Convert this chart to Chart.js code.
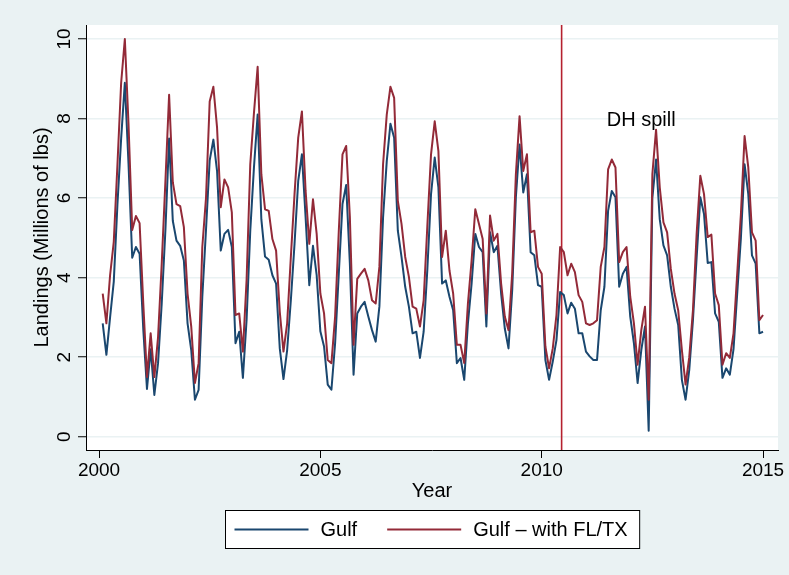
<!DOCTYPE html>
<html>
<head>
<meta charset="utf-8">
<script src="https://cdn.jsdelivr.net/npm/chart.js@4.4.1/dist/chart.umd.min.js"></script>
<style>
html,body{margin:0;padding:0;background:#eaf2f3;}
#wrap{width:789px;height:575px;}
</style>
</head>
<body>
<div id="wrap"><canvas id="c" width="789" height="575"></canvas></div>
<script>
// ---- data ----
const startYear = 2000;               // monthly series, Feb 2000 .. Jan 2015 positions
const monthCount = 180;
const months = Array.from({length: monthCount}, (_, i) => startYear + (i + 1) / 12);

const gulf = [
  2.85,2.06,3.0,3.9,5.85,7.5,8.9,6.85,4.5,4.77,4.6,2.7,
  1.2,2.2,1.05,1.85,3.35,5.2,7.5,5.43,4.93,4.8,4.43,2.85,
  2.18,0.93,1.18,3.52,5.2,6.95,7.47,6.68,4.68,5.1,5.2,4.77,
  2.35,2.64,1.48,2.93,5.18,6.77,8.1,5.47,4.53,4.45,4.06,3.85,
  2.22,1.45,2.18,3.43,4.85,6.43,7.1,5.52,3.81,4.8,4.06,2.65,
  2.27,1.31,1.18,2.35,4.1,5.85,6.33,4.35,1.56,3.1,3.27,3.39,
  3.02,2.68,2.39,3.27,5.52,6.93,7.87,7.52,5.18,4.52,3.77,3.27,
  2.6,2.64,1.98,2.64,4.2,6.1,7.02,6.27,3.85,3.93,3.52,3.18,
  1.85,1.98,1.43,2.85,3.85,5.1,4.77,4.64,2.77,5.14,4.64,4.8,
  3.6,2.72,2.22,3.68,6.02,7.35,6.14,6.6,4.64,4.56,3.81,3.77,
  1.93,1.43,1.89,2.43,3.64,3.56,3.1,3.37,3.22,2.6,2.6,2.14,
  2.02,1.93,1.93,3.18,3.77,5.68,6.18,6.02,3.77,4.1,4.27,3.02,
  2.35,1.35,2.18,2.77,0.15,6.0,6.97,5.47,4.81,4.56,3.77,3.22,
  2.81,1.43,0.93,1.68,2.93,4.5,6.02,5.6,4.37,4.39,3.1,2.89,
  1.48,1.72,1.56,2.2,3.6,5.0,6.85,6.1,4.56,4.35,2.6,2.64
];

const gulfFLTX = [
  3.6,2.85,4.06,4.9,6.85,8.9,10.0,7.85,5.2,5.55,5.37,3.35,
  1.5,2.6,1.5,2.5,4.35,6.43,8.6,6.4,5.85,5.8,5.27,3.6,
  2.77,1.35,1.85,4.77,6.0,8.43,8.8,7.77,5.77,6.47,6.27,5.64,
  3.06,3.1,2.14,3.93,6.85,8.14,9.3,6.6,5.72,5.68,4.97,4.68,
  3.14,2.14,2.85,4.52,6.1,7.52,8.18,6.18,4.85,5.97,5.1,3.6,
  3.1,1.93,1.85,3.02,5.18,7.1,7.31,5.52,2.31,3.97,4.1,4.22,
  3.93,3.43,3.35,4.27,6.85,8.1,8.8,8.52,5.93,5.35,4.52,4.02,
  3.27,3.22,2.77,3.43,5.3,7.1,7.93,7.18,4.52,5.18,4.18,3.6,
  2.31,2.31,1.85,3.35,4.43,5.72,5.35,4.97,3.1,5.56,4.93,5.1,
  3.85,3.02,2.68,4.1,6.6,8.06,6.68,7.1,5.14,5.18,4.27,4.1,
  2.27,1.72,2.22,3.06,4.77,4.64,4.06,4.35,4.14,3.56,3.39,2.85,
  2.81,2.85,2.93,4.27,4.77,6.72,6.97,6.77,4.39,4.64,4.77,3.52,
  2.85,1.81,2.68,3.27,0.93,6.6,7.72,6.27,5.39,5.14,4.22,3.6,
  3.18,2.18,1.31,2.0,3.18,5.1,6.56,6.1,5.02,5.08,3.6,3.31,
  1.81,2.1,1.98,2.6,4.1,5.6,7.56,6.77,5.14,4.93,2.93,3.06
];

const seriesLabels = ['Gulf', 'Gulf \u2013 with FL/TX'];
const xTicks = [2000, 2005, 2010, 2015];
const yTicks = [0, 2, 4, 6, 8, 10];
const spillYear = 2010.45;
const spillLabel = 'DH spill';
const spillLabelPos = {x: 2011.47, y: 7.81};

// ---- styling ----
const FONT = '"Liberation Sans", Arial, Helvetica, sans-serif';
const BG = '#eaf2f3';
const NAVY = '#1a476f';
const MAROON = '#932a38';
const SPILL = '#b5212e';

const bgPlugin = {
  id: 'bg',
  beforeDraw(chart) {
    const {ctx, chartArea: a} = chart;
    ctx.save();
    ctx.fillStyle = BG;
    ctx.fillRect(0, 0, chart.width, chart.height);
    ctx.fillStyle = '#ffffff';
    ctx.fillRect(a.left, a.top, a.right - a.left, a.bottom - a.top);
    ctx.restore();
  }
};

const spillPlugin = {
  id: 'spill',
  beforeDatasetsDraw(chart) {
    const {ctx, chartArea: a, scales} = chart;
    const x = scales.x.getPixelForValue(spillYear);
    ctx.save();
    ctx.strokeStyle = SPILL;
    ctx.lineWidth = 1.6;
    ctx.beginPath();
    ctx.moveTo(x, a.top);
    ctx.lineTo(x, a.bottom);
    ctx.stroke();
    ctx.restore();
  }
};

const decorPlugin = {
  id: 'decor',
  afterDraw(chart) {
    const {ctx, chartArea: a, scales} = chart;
    ctx.save();
    // rotated y tick labels
    ctx.fillStyle = '#000';
    ctx.font = '19px ' + FONT;
    ctx.textAlign = 'center';
    ctx.textBaseline = 'alphabetic';
    yTicks.forEach(v => {
      const py = scales.y.getPixelForValue(v);
      ctx.save();
      ctx.translate(a.left - 16, py);
      ctx.rotate(-Math.PI / 2);
      ctx.fillText(String(v), 0, 0);
      ctx.restore();
    });
    // annotation
    ctx.font = '20px ' + FONT;
    ctx.textAlign = 'left';
    ctx.fillText(spillLabel, scales.x.getPixelForValue(spillLabelPos.x), scales.y.getPixelForValue(spillLabelPos.y));

    // legend
    const ds = chart.data.datasets;
    ctx.font = '20px ' + FONT;
    const lineLen = 74, gapLT = 12, itemGap = 30, padL = 9, padR = 12;
    const widths = ds.map(d => ctx.measureText(d.label).width);
    let total = padL + padR + itemGap * (ds.length - 1);
    widths.forEach(w => total += lineLen + gapLT + w);
    const cx = (a.left + a.right) / 2;
    const x0 = Math.round(cx - total / 2) + 0.5;
    const top = 510.5, h = 38;
    ctx.fillStyle = '#fff';
    ctx.fillRect(x0, top, total, h);
    ctx.strokeStyle = '#000';
    ctx.lineWidth = 1;
    ctx.strokeRect(x0, top, total, h);
    let x = x0 + padL;
    const cy = top + h / 2;
    ds.forEach((d, i) => {
      ctx.strokeStyle = d.borderColor;
      ctx.lineWidth = 2;
      ctx.beginPath();
      ctx.moveTo(x, cy);
      ctx.lineTo(x + lineLen, cy);
      ctx.stroke();
      x += lineLen + gapLT;
      ctx.fillStyle = '#000';
      ctx.textBaseline = 'middle';
      ctx.fillText(d.label, x, cy + 1);
      x += widths[i] + itemGap;
    });
    ctx.restore();
  }
};

new Chart(document.getElementById('c'), {
  type: 'line',
  data: {
    datasets: [
      {
        label: seriesLabels[0],
        data: gulf.map((v, i) => ({x: months[i], y: v})),
        borderColor: NAVY,
        backgroundColor: NAVY,
        borderWidth: 2,
        pointRadius: 0,
        tension: 0,
        fill: false,
        borderJoinStyle: 'round',
        order: 1
      },
      {
        label: seriesLabels[1],
        data: gulfFLTX.map((v, i) => ({x: months[i], y: v})),
        borderColor: MAROON,
        backgroundColor: MAROON,
        borderWidth: 2,
        pointRadius: 0,
        tension: 0,
        fill: false,
        borderJoinStyle: 'round',
        order: 0
      }
    ]
  },
  options: {
    responsive: false,
    animation: false,
    devicePixelRatio: 1,
    layout: {padding: {left: 30, right: 11, top: 25, bottom: 72}},
    plugins: {
      legend: {display: false},
      tooltip: {enabled: false}
    },
    scales: {
      x: {
        type: 'linear',
        min: 1999.706,
        max: 2015.338,
        afterBuildTicks: s => { s.ticks = xTicks.map(v => ({value: v})); },
        afterFit: s => { s.height = 53; },
        ticks: {
          color: '#000',
          font: {size: 19, family: FONT},
          padding: 1,
          maxRotation: 0,
          autoSkip: false,
          callback: v => String(v)
        },
        grid: {drawOnChartArea: false, drawTicks: true, tickLength: 8, tickColor: '#000', tickWidth: 1},
        border: {color: '#000', width: 1},
        title: {display: true, text: 'Year', color: '#000', font: {size: 20, family: FONT}, padding: 0}
      },
      y: {
        type: 'linear',
        min: -0.334,
        max: 10.352,
        afterBuildTicks: s => { s.ticks = yTicks.map(v => ({value: v})); },
        afterFit: s => { s.width = 56; },
        ticks: {display: false},
        grid: {color: BG, lineWidth: 1.5, drawTicks: true, tickLength: 8, tickColor: '#000', tickWidth: 1},
        border: {color: '#000', width: 1},
        title: {display: true, text: 'Landings (Millions of lbs)', color: '#000', font: {size: 20, family: FONT}, padding: 0}
      }
    }
  },
  plugins: [bgPlugin, spillPlugin, decorPlugin]
});
</script>
</body>
</html>
